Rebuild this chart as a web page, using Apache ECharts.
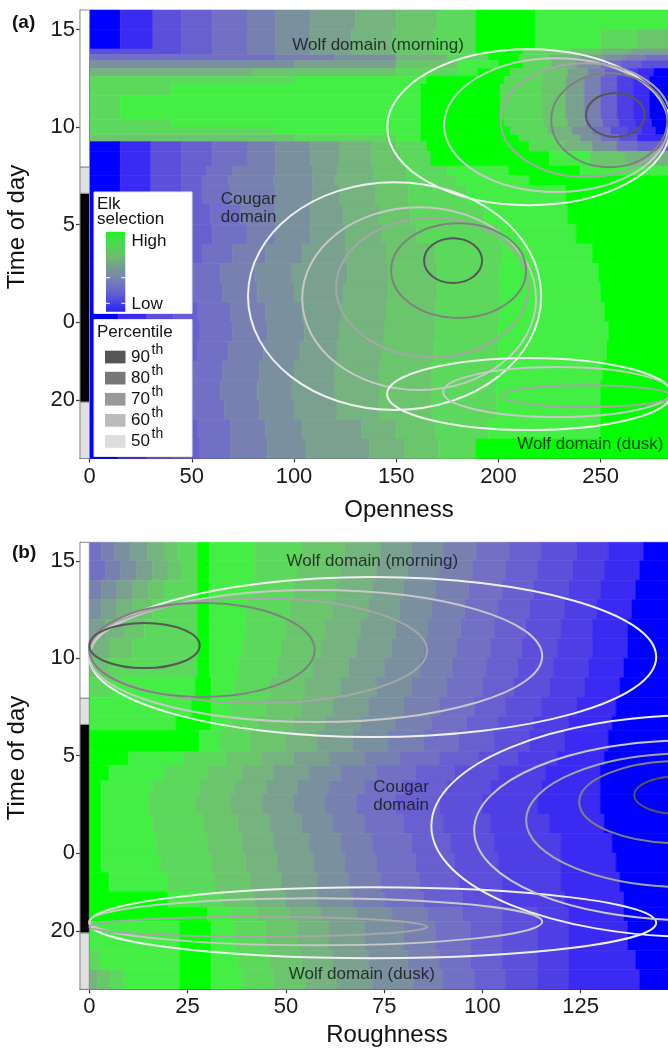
<!DOCTYPE html>
<html><head><meta charset="utf-8">
<script src="https://cdn.jsdelivr.net/npm/echarts@6/dist/echarts.min.js"></script>
<style>html,body{margin:0;padding:0;background:#fff}#c{width:668px;height:1057px}</style>
</head><body><div id="c"></div>
<script>
const FONT = "'Liberation Sans', Arial, Helvetica, sans-serif";

// Elk selection bands, blue (low) -> green (high)
const palette = ['#0000ff','#3b2af1','#4e3fe5','#5c50da','#6860d0','#7170c4','#7880b2','#7a909f',
                 '#7aa18f','#75b37f','#6bc56d','#5cd95c','#45ee45','#00ff00'];

const xTicksA = [0, 50, 100, 150, 200, 250];
const xTicksB = [0, 25, 50, 75, 100, 125];
const yTickValues = [-4, 0, 5, 10, 15];
const yTickLabels = ['20', '0', '5', '10', '15'];

// rows: [hourStart, hourEnd, level, break, level, break, level ...]  (x = openness)
const heatRowsA = [
 [15,16.1, 0,15,1,31,3,45,4,60,5,77,6,91,7,108,8,130,9,150,10,170,11,189,13,218,12],
 [14,15, 0,15,1,31,3,45,4,60,5,77,6,91,7,108,8,128,9,148,10,168,11,189,13,218,12,250,11,268,10],
 [13.7,14, 3,45,4,60,5,77,6,91,7,108,8,128,9,148,10,168,11,189,13,212,11,235,10,250,9,265,8],
 [13.4,13.7, 5,91,6,120,7,150,9,175,11,195,13,210,11,225,9,240,8,252,7,262,6,272,5],
 [13.0,13.4, 7,100,8,150,10,180,12,200,13,212,11,226,9,238,7,250,5,260,4,270,3],
 [12.6,13.0, 9,80,10,150,11,180,12,190,13,206,11,222,10,234,8,244,6,252,4,260,2,268,1,276,0],
 [12.2,12.6, 11,100,12,165,13,203,11,221,10,233,8,242,6,250,4,258,2,266,1,274,0],
 [11.6,12.2, 11,40,12,162,13,201,11,221,10,233,8,242,6,250,4,258,2,266,1,274,0],
 [10.4,11.6, 11,15,12,162,13,201,11,221,10,233,8,242,6,250,4,258,2,266,1,274,0],
 [10.0,10.4, 11,40,12,162,13,203,11,222,10,234,8,243,6,251,4,259,2,267,1,275,0],
 [9.6,10.0, 11,90,12,162,13,206,11,224,9,236,7,246,5,255,3,263,2,270,1,277,0],
 [9.25,9.6, 10,100,11,150,12,162,13,210,11,228,9,240,7,250,5,259,3,268,1],
 [8.75,9.25, 0,15,1,30,3,45,4,60,5,77,6,91,7,108,8,122,9,138,10,150,11,165,13,215,11,232,9,246,7,258,5,268,4],
 [8.0,8.75, 0,15,1,30,3,45,4,60,5,77,6,91,7,108,8,122,9,138,10,152,11,167,13,225,12,245,10,262,9],
 [7.5,8.0, 0,15,1,30,3,45,4,57,5,70,6,91,7,109,8,121,9,139,10,155,11,175,12,205,13,240,12],
 [7.0,7.5, 0,15,1,30,3,45,4,55,5,68,6,90,7,109,8,120,9,139,10,155,11,180,12,215,13],
 [6,7, 0,15,1,30,3,45,4,55,5,69,6,91,7,109,8,122,9,140,10,156,11,185,12,233,13],
 [5,6, 0,15,1,30,3,45,4,59,5,74,6,91,7,108,8,124,9,142,10,157,11,193,12,234,13],
 [4,5, 0,15,1,30,3,45,4,60,5,77,6,91,7,108,8,125,9,143,10,160,11,200,12,238,13],
 [3,4, 0,15,1,29,3,43,4,55,5,70,6,86,7,104,8,125,9,145,10,169,11,202,12,246,13],
 [2,3, 0,14,1,28,3,41,4,51,5,64,6,81,7,99,8,126,9,146,10,170,11,201,12,249,13],
 [1,2, 0,14,1,28,3,40,4,51,5,65,6,82,7,100,8,124,9,146,10,170,11,201,12,250,13],
 [0,1, 0,14,1,28,3,41,4,53,5,69,6,86,7,104,8,123,9,145,10,169,11,201,12,252,13],
 [-1,0, 0,14,1,28,3,42,4,54,5,70,6,87,7,105,8,122,9,144,10,169,11,200,12,254,13],
 [-2,-1, 0,14,1,28,3,41,4,53,5,68,6,85,7,103,8,121,9,143,10,168,11,200,12,253,13],
 [-3,-2, 0,13,1,27,3,40,4,51,5,65,6,83,7,100,8,120,9,142,10,167,11,199,12,251,13],
 [-4,-3, 0,13,1,26,3,39,4,50,5,64,6,82,7,99,8,120,9,142,10,167,11,199,12,250,13],
 [-5,-4, 0,13,1,27,3,40,4,51,5,66,6,83,7,100,8,121,9,142,10,167,11,199,12,250,13],
 [-6,-5, 0,14,1,28,3,41,4,53,5,69,6,86,7,104,8,133,9,150,10,169,11,195,12,250,13],
 [-7.1,-6, 0,14,1,28,3,41,4,54,5,69,6,87,7,106,8,137,9,154,10,171,11,189,13]
];

// x = roughness
const heatRowsB = [
 [15,16.1, 5,3,6,6.5,7,10.5,8,14.8,9,19,10,22.5,11,27.5,13,30.5,12,42,11,54,10,65,9,74,8,82,7,90,6,98.5,5,107,4,115,3,124,2,132,1,141,0],
 [14,15, 5,4,6,8,7,12,8,16,9,20,10,23.5,11,27.5,13,30.5,12,42,11,53,10,64,9,73,8,81,7,89,6,97.5,5,106,4,114,3,123,2,131,1,140,0],
 [13,14, 6,3,7,7,8,11,9,15,10,19,11,27.5,13,30.5,12,41,11,52,10,63,9,72,8,80,7,88,6,96.5,5,105,4,113,3,122,2,130,1,139,0],
 [12,13, 7,3,8,7,9,11,10,16,11,27.5,13,30.5,12,40,11,51,10,62,9,71,8,79,7,87,6,95.5,5,104,4,112,3,121,2,129,1,138,0],
 [11,12, 8,4,9,9,10,14,11,27.5,13,30.5,12,40,11,50,10,60,9,69,8,78,7,86,6,94.5,5,103,4,111,3,120,2,128,1,137,0],
 [10,11, 9,5,10,11,11,27.5,13,30.5,12,39,11,49,10,59,9,68,8,77,7,85,6,93.5,5,102,4,110,3,119,2,128,1,137,0],
 [9,10, 10,5,11,27.5,13,30.5,12,38,11,48,10,57,9,66,8,75,7,84,6,92.5,5,101,4,109,3,118,2,127,1,136,0],
 [8,9, 11,6,12,27,13,31,12,37,11,46,10,55,9,64,8,73,7,82,6,91,5,100,4,108,3,117,2,126,1,135,0],
 [7,8, 12,26,13,31,12,36,11,45,10,54,9,62,8,71,7,80,6,89,5,98,4,106,3,115,2,124,1,134,0],
 [6.3,7, 12,22,13,31,12,35,11,43,10,52,9,60,8,69,7,78,6,87,5,96,4,104,3,113,2,122,1,133,0],
 [5.2,6.3, 13,28,12,33,11,41,10,50,9,58,8,67,7,76,6,85,5,94,4,103,3,112,2,121,1,132,0],
 [4.5,5.2, 13,10,12,24,11,35,10,44,9,52,8,61,7,70,6,79,5,89,4,99,3,109,2,119,1,131,0],
 [3.7,4.5, 13,5,12,19,11,30,10,39,9,47,8,56,7,64,6,73,5,83,4,93,3,104,2,116,1,130,0],
 [3,3.7, 13,3,12,16,11,28,10,37,9,45,8,53,7,61,6,70,5,80,4,91,3,102,2,115,1,130,0],
 [2,3, 13,3,12,15,11,27,10,36,9,44,8,52,7,60,6,68,5,78,4,89,3,100,2,114,1,130,0],
 [1,2, 13,3,12,16,11,29,10,38,9,46,8,54,7,62,6,70,5,80,4,90,3,102,2,117,1,131,0],
 [0,1, 13,3,12,17,11,30,10,39,9,47,8,56,7,64,6,72,5,82,4,92,3,103,2,120,1,133,0],
 [-1,0, 13,3,12,18,11,31,10,40,9,48,8,57,7,65,6,73,5,83,4,93,3,104,2,120,1,134,0],
 [-2,-1, 13,5,12,20,11,32,10,41,9,49,8,58,7,66,6,74,5,84,4,94,3,105,2,120,1,135,0],
 [-2.8,-2, 13,20,12,28,11,34,10,42,9,50,8,58,7,67,6,75,5,85,4,95,3,105,2,121,1,136,0],
 [-3.5,-2.8, 13,30,12,36,11,43,10,51,9,59,8,68,7,77,6,86,5,95,4,105,3,114,2,122,1,136,0],
 [-5,-3.5, 12,23,13,31,12,37,11,45,10,53,9,61,8,70,7,80,6,88,5,97,4,105,3,114,2,122,1,137,0],
 [-6,-5, 11,3,12,23,13,31,12,38,11,46,10,54,9,62,8,71,7,81,6,89,5,97,4,105,3,114,2,122,1,139,0],
 [-7.1,-6, 9,2,10,5,11,9,12,23,13,31,12,39,11,47,10,55,9,63,8,72,7,82.5,6,90,5,98,4,106,3,114,2,122,1,140,0]
];

// day / twilight / night strip: [hourStart, hourEnd, phase] 0 day, 1 twilight, 2 night
const stripSegments = [[-7.1, -4.1, 1], [-4.1, 6.6, 2], [6.6, 7.95, 1], [7.95, 16.1, 0]];
const stripColors = ['#ffffff', '#e0e0e0', '#000000'];

// percentile contours: [centreX, centreHour, radiusX, radiusHour, percentile]
const ellipsesA = [
 [149.2, 1.33, 71.7, 5.84, 50], [161.2, 1.20, 57.2, 4.69, 60], [167.6, 1.77, 47.0, 3.56, 70], [180.5, 2.64, 33.0, 2.43, 80], [177.8, 3.15, 14.2, 1.15, 90],
 [214.8, 9.99, 69.2, 4.00, 50], [228.2, 10.10, 54.8, 3.43, 60], [242.7, 10.35, 41.6, 2.92, 70], [254.2, 10.35, 28.4, 2.41, 80], [257.1, 10.62, 14.3, 1.13, 90],
 [215.0, -3.69, 69.5, 1.85, 50], [228.7, -3.59, 55.8, 1.28, 60], [242.9, -3.80, 41.6, 0.56, 70]
];
const ellipsesB = [
 [72.1, 10.06, 72.1, 4.11, 50], [57.6, 10.11, 57.6, 3.39, 60], [42.97, 10.39, 42.97, 2.70, 70], [28.67, 10.42, 28.67, 2.41, 80], [14.04, 10.65, 14.04, 1.16, 90],
 [72.1, -3.58, 72.1, 1.82, 50], [57.6, -3.53, 57.6, 1.21, 60], [42.97, -3.79, 42.97, 0.51, 70],
 [155.4, 1.38, 68.4, 5.70, 50], [152.8, 1.17, 54.9, 4.62, 60], [152.8, 1.68, 41.7, 3.44, 70], [150.3, 2.61, 25.7, 2.11, 80], [150.3, 2.97, 11.7, 0.98, 90]
];
const pctLevels = [90, 80, 70, 60, 50];
const pctLine = {50: '#efefef', 60: '#c8c8c8', 70: '#a6a6a6', 80: '#808080', 90: '#565656'};
const pctSwatch = {90: '#555555', 80: '#777777', 70: '#999999', 60: '#bbbbbb', 50: '#dddddd'};

const notesA = [[141.1, 14.17, 'Wolf domain (morning)'], [77.8, 5.82, 'Cougar\ndomain'], [244.9, -6.26, 'Wolf domain (dusk)']];
const notesB = [[72.0, 14.96, 'Wolf domain (morning)'], [79.3, 2.92, 'Cougar\ndomain'], [69.3, -6.22, 'Wolf domain (dusk)']];

function rowsToItems(rows, xEnd) {
  const out = [];
  rows.forEach(function (r) {
    const h0 = r[0], h1 = r[1], seq = r.slice(2);
    let xs = 0;
    for (let i = 0; i < seq.length; i += 2) {
      const xe = i + 1 < seq.length ? seq[i + 1] : xEnd;
      out.push([xs, xe, h0, h1, seq[i]]);
      xs = xe;
    }
  });
  return out;
}

function rectRender(colorOf, strokeOf) {
  return function (params, api) {
    const a = api.coord([api.value(0), api.value(3)]);
    const b = api.coord([api.value(1), api.value(2)]);
    const cs = params.coordSys;
    const r = echarts.graphic.clipRectByRect(
      {x: a[0], y: a[1], width: b[0] - a[0], height: b[1] - a[1]},
      {x: cs.x, y: cs.y, width: cs.width, height: cs.height});
    if (!r) return;
    const col = colorOf(api.value(4));
    return {type: 'rect', shape: r, style: {fill: col, stroke: strokeOf ? strokeOf : col, lineWidth: strokeOf ? 1 : 0.6}};
  };
}

function ellipseRender(params, api) {
  const c = api.coord([api.value(0), api.value(1)]);
  const s = api.size([api.value(2), api.value(3)]);
  return {type: 'ellipse', shape: {cx: c[0], cy: c[1], rx: s[0], ry: s[1]},
          style: {fill: 'none', stroke: pctLine[api.value(4)], lineWidth: 2}};
}

function xAxisCfg(g, min, max, ticks) {
  return {type: 'value', gridIndex: g, min: min, max: max,
    axisLine: {show: true, onZero: false, lineStyle: {color: '#3a3a3a', width: 1.2}},
    axisTick: {show: true, length: 4, customValues: ticks, lineStyle: {color: '#3a3a3a', width: 1.2}},
    axisLabel: {show: true, customValues: ticks, margin: 7, fontSize: 22, color: '#1a1a1a', fontFamily: FONT},
    splitLine: {show: false}};
}
function yAxisCfg(g, min, max) {
  return {type: 'value', gridIndex: g, min: min, max: max,
    axisLine: {show: true, onZero: false, lineStyle: {color: '#3a3a3a', width: 1.2}},
    axisTick: {show: true, length: 4, customValues: yTickValues, lineStyle: {color: '#3a3a3a', width: 1.2}},
    axisLabel: {show: true, customValues: yTickValues, margin: 5, fontSize: 22, color: '#1a1a1a', fontFamily: FONT,
      formatter: function (v) { const i = yTickValues.indexOf(v); return i >= 0 ? yTickLabels[i] : ''; }},
    splitLine: {show: false}};
}

function panelSeries(i, rows, xEnd, ellipses, notes) {
  return [
    {type: 'custom', xAxisIndex: i, yAxisIndex: i, silent: true, z: 1, progressive: 0,
     data: rowsToItems(rows, xEnd), renderItem: rectRender(function (l) { return palette[l]; })},
    {type: 'custom', xAxisIndex: i, yAxisIndex: i, silent: true, z: 2, progressive: 0,
     data: stripSegments.map(function (s) { return [-10, 0, s[0], s[1], s[2]]; }),
     renderItem: rectRender(function (p) { return stripColors[p]; }, '#8a8a8a')},
    {type: 'custom', xAxisIndex: i, yAxisIndex: i, silent: true, z: 3, progressive: 0,
     data: ellipses, renderItem: ellipseRender},
    {type: 'scatter', xAxisIndex: i, yAxisIndex: i, silent: true, z: 4, symbolSize: 1,
     itemStyle: {color: 'rgba(0,0,0,0)'},
     data: notes.map(function (n) { return {value: [n[0], n[1]], name: n[2]}; }),
     label: {show: true, position: 'inside', formatter: '{b}', fontSize: 17, lineHeight: 18,
             color: '#111', fontFamily: FONT}}
  ];
}

function txt(x, y, s, size, opts) {
  opts = opts || {};
  return {type: 'text', x: x, y: y, rotation: opts.rot || 0, z: 100,
    style: {text: s, font: (opts.bold ? 'bold ' : '') + size + 'px ' + FONT, fill: '#111',
      textAlign: opts.align || 'left', align: opts.align || 'left',
      textVerticalAlign: 'middle', verticalAlign: 'middle'}};
}

const legendEls = [
  {type: 'rect', z: 100, shape: {x: 94, y: 192, width: 98, height: 121.5}, style: {fill: '#fff', stroke: '#e6e6e6', lineWidth: 1}},
  {type: 'rect', z: 100, shape: {x: 94, y: 319.5, width: 98, height: 137}, style: {fill: '#fff', stroke: '#e6e6e6', lineWidth: 1}},
  txt(97, 204, 'Elk', 17), txt(97, 219, 'selection', 17),
  {type: 'rect', z: 101, shape: {x: 106, y: 231.7, width: 19.3, height: 80},
   style: {fill: new echarts.graphic.LinearGradient(0, 0, 0, 1, [
     {offset: 0, color: '#22f022'}, {offset: 0.12, color: '#48dc4a'}, {offset: 0.32, color: '#6cbc74'},
     {offset: 0.44, color: '#7a9a92'}, {offset: 0.6, color: '#7882b2'}, {offset: 0.77, color: '#6660d2'},
     {offset: 1, color: '#2424f2'}])}},
  {type: 'line', z: 102, shape: {x1: 106, y1: 277.7, x2: 110, y2: 277.7}, style: {stroke: '#fff', lineWidth: 1}},
  {type: 'line', z: 102, shape: {x1: 121.3, y1: 277.7, x2: 125.3, y2: 277.7}, style: {stroke: '#fff', lineWidth: 1}},
  {type: 'line', z: 102, shape: {x1: 106, y1: 303.3, x2: 110, y2: 303.3}, style: {stroke: '#fff', lineWidth: 1}},
  {type: 'line', z: 102, shape: {x1: 121.3, y1: 303.3, x2: 125.3, y2: 303.3}, style: {stroke: '#fff', lineWidth: 1}},
  txt(131.5, 241, 'High', 17), txt(131.5, 304.5, 'Low', 17),
  txt(97, 332.5, 'Percentile', 17)
];
pctLevels.forEach(function (p, k) {
  const y = 350.7 + k * 21.1;
  legendEls.push({type: 'rect', z: 101, shape: {x: 105, y: y, width: 20.5, height: 12.7}, style: {fill: pctSwatch[p]}});
  legendEls.push(txt(131, y + 6.5, String(p), 17));
  legendEls.push(txt(151.5, y - 0.5, 'th', 14));
});

const titleEls = [
  txt(12, 22.5, '(a)', 19, {bold: true}),
  txt(12, 552.5, '(b)', 19, {bold: true}),
  txt(17, 227, 'Time of day', 24, {rot: Math.PI / 2, align: 'center'}),
  txt(17, 758, 'Time of day', 24, {rot: Math.PI / 2, align: 'center'}),
  txt(399, 510, 'Openness', 24, {align: 'center'}),
  txt(387, 1035.5, 'Roughness', 24, {align: 'center'})
];

const chart = echarts.init(document.getElementById('c'), null, {renderer: 'canvas', width: 668, height: 1057});
chart.setOption({
  animation: false,
  backgroundColor: '#ffffff',
  textStyle: {fontFamily: FONT},
  grid: [
    {left: 80, right: 0, top: 10, height: 448.5, containLabel: false},
    {left: 80, right: 0, top: 542.3, height: 447, containLabel: false}
  ],
  xAxis: [xAxisCfg(0, -4.65, 282.9, xTicksA), xAxisCfg(1, -2.37, 147.2, xTicksB)],
  yAxis: [yAxisCfg(0, -7.0, 16.0), yAxisCfg(1, -7.0, 15.95)],
  series: panelSeries(0, heatRowsA, 300, ellipsesA, notesA).concat(panelSeries(1, heatRowsB, 160, ellipsesB, notesB)),
  graphic: {elements: legendEls.concat(titleEls)}
});
</script></body></html>
